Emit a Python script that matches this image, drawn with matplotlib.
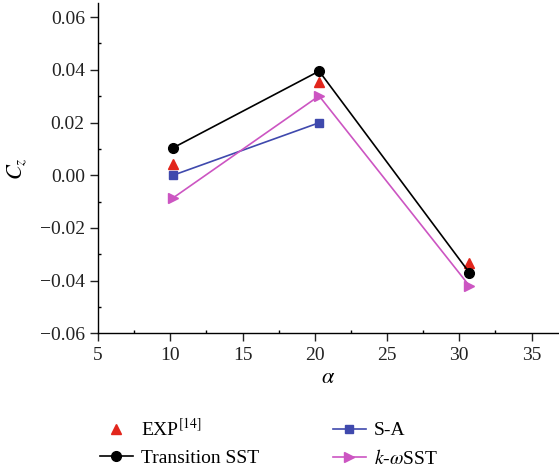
import matplotlib.pyplot as plt
from matplotlib.ticker import MultipleLocator

plt.rcParams['font.family'] = ['Liberation Serif', 'DejaVu Serif']
plt.rcParams['mathtext.fontset'] = 'stix'

# angle of attack and side-force coefficient
alpha = [10.2, 20.3, 30.7]
cz_exp = [0.0044, 0.0352, -0.0335]
cz_trans = [0.0104, 0.0395, -0.0370]
alpha_sa = [10.2, 20.3]
cz_sa = [0.0000, 0.0199]
cz_kw = [-0.0086, 0.0301, -0.0420]
yticks = [-0.06, -0.04, -0.02, 0.0, 0.02, 0.04, 0.06]
ylabels = ['\u22120.06', '\u22120.04', '\u22120.02', '0.00', '0.02', '0.04', '0.06']

fig = plt.figure(figsize=(5.59, 4.74), dpi=100)
ax = fig.add_axes([0.1753, 0.2968, 0.8247, 0.6966])

ax.plot(alpha, cz_exp, linestyle='none', marker='^', color='#e2261c', ms=7,
        label='EXP$^{[14]}$')
ax.plot(alpha, cz_trans, color='black', lw=1.2, marker='o', ms=7,
        label='Transition SST')
ax.plot(alpha_sa, cz_sa, color='#3f49ad', lw=1.2, marker='s', ms=6,
        label='S-A')
ax.plot(alpha, cz_kw, color='#cc55c2', lw=1.2, marker='>', ms=7,
        label='$k$-$\\omega$SST')

ax.set_xlim(5, 36.9)
ax.set_ylim(-0.06, 0.0653)
ax.xaxis.set_major_locator(MultipleLocator(5))
ax.xaxis.set_minor_locator(MultipleLocator(2.5))
ax.set_yticks(yticks)
ax.set_yticklabels(ylabels)
ax.yaxis.set_minor_locator(MultipleLocator(0.01))

for s in ['top', 'right']:
    ax.spines[s].set_visible(False)
for s in ['left', 'bottom']:
    ax.spines[s].set_linewidth(1.0)
ax.tick_params(which='major', direction='out', length=6, width=1.0,
               labelsize=14, colors='#222222')
ax.tick_params(which='minor', direction='in', length=2, width=1.0)

ax.set_xlabel('$\\alpha$', fontsize=16, labelpad=4)
ax.set_ylabel('$C_z$', fontsize=16, labelpad=8)

ax.legend(loc='upper left', bbox_to_anchor=(0.004, -0.255), ncol=2,
          frameon=False, fontsize=14, handlelength=1.7, handletextpad=0.4,
          columnspacing=3.8, labelspacing=0.5, borderaxespad=0, borderpad=0)

fig.savefig('out.png', dpi=100)
